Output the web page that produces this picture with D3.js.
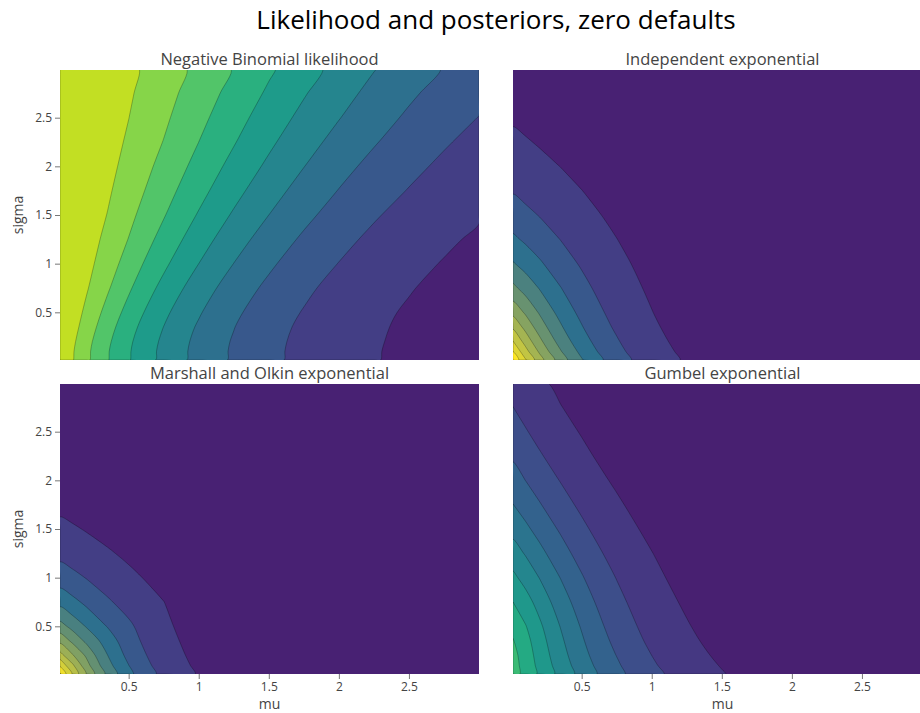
<!DOCTYPE html>
<html><head><meta charset="utf-8">
<script src="https://cdn.jsdelivr.net/npm/d3@7"></script>
<style>
body{margin:0;background:#fff}
svg{display:block}
text{font-family:"Open Sans",sans-serif}
</style>
</head><body>
<svg id="chart" width="920" height="713"></svg>
<script>
// ---------------- data ----------------
const muGrid    = [0.01, 0.1, 0.2, 0.35, 0.5, 0.75, 1.0, 1.25, 1.5, 1.75, 2.0, 2.25, 2.5, 2.75, 3.0];
const sigmaGrid = [0.01, 0.1, 0.2, 0.35, 0.5, 0.75, 1.0, 1.25, 1.5, 1.75, 2.0, 2.25, 2.5, 2.75, 3.0];

// rows: sigma ascending, columns: mu ascending
const nbLikelihood = [
  [0.990,0.905,0.819,0.705,0.607,0.472,0.368,0.287,0.223,0.174,0.135,0.105,0.082,0.064,0.050],
  [0.993,0.909,0.823,0.708,0.610,0.475,0.370,0.288,0.224,0.175,0.136,0.106,0.082,0.064,0.050],
  [0.996,0.919,0.833,0.718,0.618,0.482,0.375,0.292,0.228,0.177,0.138,0.108,0.084,0.065,0.051],
  [0.998,0.937,0.856,0.741,0.639,0.499,0.389,0.303,0.236,0.184,0.144,0.112,0.087,0.068,0.053],
  [0.999,0.951,0.878,0.768,0.667,0.523,0.410,0.320,0.250,0.195,0.152,0.118,0.092,0.072,0.056],
  [0.999,0.967,0.909,0.812,0.715,0.571,0.452,0.356,0.280,0.219,0.172,0.134,0.105,0.082,0.064],
  [1.000,0.976,0.931,0.848,0.760,0.621,0.500,0.399,0.317,0.251,0.198,0.155,0.122,0.096,0.075],
  [1.000,0.982,0.946,0.875,0.797,0.667,0.548,0.444,0.358,0.286,0.228,0.181,0.143,0.113,0.089],
  [1.000,0.986,0.956,0.897,0.827,0.707,0.592,0.489,0.400,0.325,0.262,0.210,0.168,0.134,0.107],
  [1.000,0.989,0.964,0.913,0.852,0.742,0.633,0.532,0.442,0.364,0.297,0.242,0.196,0.158,0.127],
  [1.000,0.991,0.970,0.926,0.872,0.771,0.669,0.571,0.482,0.402,0.333,0.274,0.225,0.183,0.149],
  [1.000,0.992,0.974,0.936,0.888,0.797,0.700,0.607,0.519,0.440,0.369,0.308,0.255,0.210,0.172],
  [1.000,0.993,0.978,0.944,0.901,0.818,0.728,0.639,0.554,0.475,0.404,0.341,0.286,0.238,0.198],
  [1.000,0.994,0.981,0.951,0.912,0.836,0.753,0.668,0.586,0.508,0.437,0.373,0.316,0.267,0.224],
  [1.000,0.995,0.983,0.956,0.921,0.852,0.774,0.694,0.615,0.539,0.469,0.404,0.347,0.295,0.250]
];
const independentPosterior = [
  [1.087,0.908,0.743,0.551,0.408,0.247,0.150,0.091,0.055,0.0335,0.020,0.0123,0.0075,0.0045,0.0027],
  [0.996,0.834,0.683,0.506,0.375,0.227,0.138,0.084,0.051,0.0308,0.019,0.0113,0.0069,0.0042,0.0025],
  [0.904,0.763,0.626,0.464,0.344,0.209,0.127,0.077,0.047,0.0282,0.017,0.0104,0.0063,0.0038,0.0023],
  [0.780,0.669,0.553,0.412,0.306,0.186,0.113,0.069,0.042,0.0253,0.015,0.0093,0.0056,0.0034,0.0021],
  [0.672,0.585,0.489,0.368,0.275,0.168,0.102,0.062,0.038,0.0230,0.014,0.0085,0.0051,0.0031,0.0019],
  [0.523,0.463,0.394,0.303,0.230,0.143,0.088,0.054,0.033,0.0202,0.012,0.0075,0.0046,0.0028,0.0017],
  [0.408,0.364,0.314,0.246,0.190,0.121,0.076,0.047,0.029,0.0179,0.011,0.0067,0.0041,0.0025,0.0015],
  [0.318,0.285,0.249,0.198,0.155,0.101,0.065,0.041,0.026,0.0160,0.0099,0.0061,0.0038,0.0023,0.0014],
  [0.247,0.223,0.196,0.158,0.125,0.084,0.054,0.035,0.022,0.0141,0.0089,0.0055,0.0034,0.0021,0.0013],
  [0.193,0.174,0.154,0.125,0.101,0.068,0.045,0.030,0.019,0.0123,0.0078,0.0050,0.0031,0.0020,0.0012],
  [0.150,0.136,0.120,0.099,0.080,0.055,0.037,0.025,0.016,0.0106,0.0068,0.0044,0.0028,0.0018,0.0011],
  [0.117,0.106,0.094,0.078,0.064,0.044,0.030,0.021,0.014,0.0090,0.0059,0.0038,0.0025,0.0016,0.0010],
  [0.091,0.083,0.074,0.061,0.050,0.036,0.025,0.017,0.011,0.0076,0.0050,0.0033,0.0022,0.0014,0.0009],
  [0.071,0.064,0.058,0.048,0.040,0.028,0.020,0.014,0.0094,0.0063,0.0042,0.0028,0.0019,0.0012,0.0008],
  [0.055,0.050,0.045,0.038,0.031,0.022,0.016,0.011,0.0076,0.0052,0.0035,0.0024,0.0016,0.0011,0.0007]
];
const marshallOlkinPosterior = [
  [1.114,0.890,0.693,0.476,0.327,0.175,0.094,0.050,0.027,0.0144,0.0077,0.0041,0.0022,0.0012,0.0006],
  [0.977,0.817,0.636,0.437,0.301,0.161,0.086,0.046,0.025,0.0132,0.0071,0.0038,0.0020,0.0011,0.0006],
  [0.843,0.711,0.583,0.401,0.276,0.148,0.079,0.042,0.023,0.0121,0.0065,0.0035,0.0019,0.0010,0.0005],
  [0.674,0.579,0.478,0.356,0.246,0.132,0.071,0.038,0.020,0.0109,0.0058,0.0031,0.0017,0.0009,0.0005],
  [0.539,0.469,0.392,0.295,0.220,0.119,0.064,0.034,0.018,0.0099,0.0053,0.0028,0.0015,0.0008,0.0004],
  [0.371,0.328,0.279,0.214,0.163,0.101,0.055,0.030,0.016,0.0087,0.0047,0.0025,0.0013,0.0007,0.0004],
  [0.255,0.228,0.196,0.154,0.119,0.076,0.047,0.026,0.014,0.0077,0.0042,0.0023,0.0012,0.0007,0.0004],
  [0.175,0.157,0.137,0.109,0.086,0.056,0.036,0.023,0.013,0.0069,0.0038,0.0021,0.0011,0.0006,0.0003],
  [0.120,0.109,0.095,0.077,0.061,0.041,0.027,0.017,0.011,0.0061,0.0034,0.0019,0.0010,0.0006,0.0003],
  [0.083,0.075,0.066,0.054,0.043,0.029,0.020,0.013,0.0082,0.0053,0.0030,0.0017,0.0009,0.0005,0.0003],
  [0.057,0.052,0.046,0.038,0.030,0.021,0.014,0.0094,0.0062,0.0040,0.0026,0.0015,0.0008,0.0005,0.0003],
  [0.039,0.036,0.032,0.026,0.021,0.015,0.010,0.0069,0.0046,0.0030,0.0020,0.0013,0.0007,0.0004,0.0002],
  [0.027,0.024,0.022,0.018,0.015,0.011,0.0073,0.0050,0.0034,0.0022,0.0015,0.0010,0.0006,0.0004,0.0002],
  [0.019,0.017,0.015,0.013,0.010,0.0074,0.0052,0.0036,0.0024,0.0016,0.0011,0.0007,0.0005,0.0003,0.0002],
  [0.013,0.012,0.010,0.0086,0.0072,0.0052,0.0037,0.0025,0.0018,0.0012,0.0008,0.0006,0.0004,0.0002,0.0002]
];
const gumbelPosterior = [
  [0.843,0.767,0.684,0.569,0.468,0.327,0.229,0.156,0.105,0.0699,0.046,0.0303,0.020,0.0128,0.0083],
  [0.841,0.760,0.674,0.555,0.452,0.314,0.214,0.144,0.096,0.0630,0.041,0.0266,0.017,0.0110,0.0070],
  [0.832,0.753,0.662,0.540,0.435,0.298,0.200,0.133,0.087,0.0564,0.036,0.0232,0.015,0.0093,0.0059],
  [0.806,0.734,0.644,0.519,0.413,0.277,0.182,0.118,0.076,0.0482,0.030,0.0191,0.012,0.0074,0.0046],
  [0.771,0.705,0.619,0.496,0.392,0.258,0.167,0.106,0.067,0.0416,0.026,0.0158,0.0097,0.0059,0.0036],
  [0.700,0.640,0.563,0.451,0.353,0.228,0.144,0.089,0.055,0.0331,0.020,0.0119,0.0070,0.0042,0.0024],
  [0.622,0.566,0.497,0.397,0.309,0.197,0.122,0.074,0.045,0.0263,0.015,0.0090,0.0052,0.0030,0.0017],
  [0.544,0.492,0.430,0.341,0.264,0.167,0.102,0.061,0.036,0.0207,0.012,0.0067,0.0038,0.0021,0.0012],
  [0.470,0.421,0.365,0.288,0.221,0.138,0.083,0.049,0.028,0.0161,0.0090,0.0050,0.0028,0.0015,0.0008],
  [0.402,0.357,0.307,0.239,0.182,0.112,0.066,0.039,0.022,0.0122,0.0067,0.0037,0.0020,0.0011,0.0006],
  [0.341,0.299,0.255,0.196,0.148,0.089,0.052,0.030,0.017,0.0091,0.0049,0.0026,0.0014,0.0007,0.0004],
  [0.288,0.250,0.210,0.160,0.119,0.070,0.040,0.023,0.012,0.0067,0.0035,0.0019,0.0010,0.0005,0.0003],
  [0.241,0.207,0.172,0.129,0.095,0.055,0.031,0.017,0.0091,0.0048,0.0025,0.0013,0.0007,0.0003,0.0002],
  [0.201,0.170,0.140,0.103,0.075,0.042,0.023,0.013,0.0066,0.0034,0.0018,0.0009,0.0004,0.0002,0.0001],
  [0.167,0.140,0.114,0.082,0.059,0.033,0.018,0.0092,0.0048,0.0024,0.0012,0.0006,0.0003,0.0001,0.0001]
];

const likelihoodLevels = [0.1,0.2,0.3,0.4,0.5,0.6,0.7,0.8,0.9];
const posteriorLevels  = [0.1,0.2,0.3,0.4,0.5,0.6,0.7,0.8,0.9,1.0,1.1];

const panelTitles = ["Negative Binomial likelihood","Independent exponential",
                     "Marshall and Olkin exponential","Gumbel exponential"];
const muTicks = [0.5, 1, 1.5, 2, 2.5];
const sigmaTicks = [0.5, 1, 1.5, 2, 2.5];
const chartTitle = "Likelihood and posteriors, zero defaults";
const xLabel = "mu", yLabel = "sigma";

// ---------------- layout / style ----------------
const W = 920, H = 713;
const muDomain = [0.01, 3.0], sigmaDomain = [0.01, 2.99];
const cols = [{x0:60, x1:479}, {x0:513, x1:932}];
const rows = [{y0:70, y1:360}, {y0:384, y1:674}];

const vir = d3.interpolateViridis;
const viridisBand = (off, denom) => k => vir(Math.min(1, (k + off) / denom));
// upper bands blend straight toward yellow (as in the reference)
const blendBand = (top) => k => k <= 3 ? vir((k + 1) / 11)
  : d3.interpolateRgb(vir(4 / 11), "#fde725")(Math.min(1, (k - 3) / (top - 3)));

const panels = [
  {data: nbLikelihood,           levels: likelihoodLevels, c:0, r:0, color: viridisBand(1, 11)},
  {data: independentPosterior,   levels: posteriorLevels,  c:1, r:0, color: blendBand(10)},
  {data: marshallOlkinPosterior, levels: posteriorLevels,  c:0, r:1, color: blendBand(10.5)},
  {data: gumbelPosterior,        levels: posteriorLevels,  c:1, r:1, color: viridisBand(1.2, 13.5)}
];

const svg = d3.select("#chart");
svg.append("rect").attr("width", W).attr("height", H).attr("fill", "#fff");

const n = muGrid.length, m = sigmaGrid.length;
const idxToMu = d3.scaleLinear().domain(d3.range(n)).range(muGrid).clamp(true);
const idxToSigma = d3.scaleLinear().domain(d3.range(m)).range(sigmaGrid).clamp(true);
// contour in log space: same iso-lines, smoother interpolation between grid nodes
const zLog = d3.scaleLog().domain([1e-4, 1]).range([-4, 0]);
const lineGen = d3.line().curve(d3.curveCatmullRomClosed.alpha(0.5));

panels.forEach((p, pi) => {
  const C = cols[p.c], R = rows[p.r];
  const x = d3.scaleLinear().domain(muDomain).range([C.x0, C.x1]);
  const y = d3.scaleLinear().domain(sigmaDomain).range([R.y1, R.y0]);

  const clipId = "clip" + pi;
  svg.append("clipPath").attr("id", clipId).append("rect")
    .attr("x", C.x0).attr("y", R.y0).attr("width", C.x1 - C.x0).attr("height", R.y1 - R.y0);
  const g = svg.append("g").attr("clip-path", `url(#${clipId})`);

  g.append("rect").attr("x", C.x0).attr("y", R.y0)
    .attr("width", C.x1 - C.x0).attr("height", R.y1 - R.y0).attr("fill", p.color(0));

  const contours = d3.contours().size([n, m])
    .thresholds(p.levels.map(zLog))(p.data.flat().map(zLog));
  contours.forEach((ct, k) => {
    if (!ct.coordinates.length) return;
    const d = ct.coordinates.map(poly => poly.map(ring => {
      const pts = ring.slice(0, -1).map(([cx, cy]) => [x(idxToMu(cx - 0.5)), y(idxToSigma(cy - 0.5))]);
      return lineGen(pts);
    }).join("")).join("");
    g.append("path").attr("d", d).attr("fill", p.color(k + 1))
      .attr("stroke", "#000").attr("stroke-opacity", 0.5).attr("stroke-width", 0.5);
  });

  svg.append("text").attr("x", (C.x0 + C.x1) / 2).attr("y", R.y0 - 5)
    .attr("text-anchor", "middle").attr("font-size", 16.5).attr("fill", "#444")
    .text(panelTitles[pi]);

  if (p.c === 0) {
    const ax = svg.append("g").attr("transform", `translate(${C.x0},0)`)
      .call(d3.axisLeft(y).tickValues(sigmaTicks).tickFormat(d3.format("~g")).tickSize(5).tickPadding(3));
    ax.select(".domain").remove();
    ax.selectAll("line").attr("stroke", "#777");
    ax.selectAll("text").attr("font-size", 12).attr("fill", "#444").attr("font-family", "Open Sans");
    svg.append("text").attr("transform", `translate(23,${(R.y0 + R.y1) / 2}) rotate(-90)`)
      .attr("text-anchor", "middle").attr("font-size", 14).attr("fill", "#444").text(yLabel);
  }
  if (p.r === 1) {
    const ax = svg.append("g").attr("transform", `translate(0,${R.y1})`)
      .call(d3.axisBottom(x).tickValues(muTicks).tickFormat(d3.format("~g")).tickSize(5).tickPadding(3));
    ax.select(".domain").remove();
    ax.selectAll("line").attr("stroke", "#777");
    ax.selectAll("text").attr("font-size", 12).attr("fill", "#444").attr("font-family", "Open Sans");
    svg.append("text").attr("x", (C.x0 + C.x1) / 2).attr("y", 709)
      .attr("text-anchor", "middle").attr("font-size", 14).attr("fill", "#444").text(xLabel);
  }
});

svg.append("text").attr("x", 496).attr("y", 29).attr("text-anchor", "middle")
  .attr("font-size", 26).attr("fill", "#000").text(chartTitle);
</script>
</body></html>
